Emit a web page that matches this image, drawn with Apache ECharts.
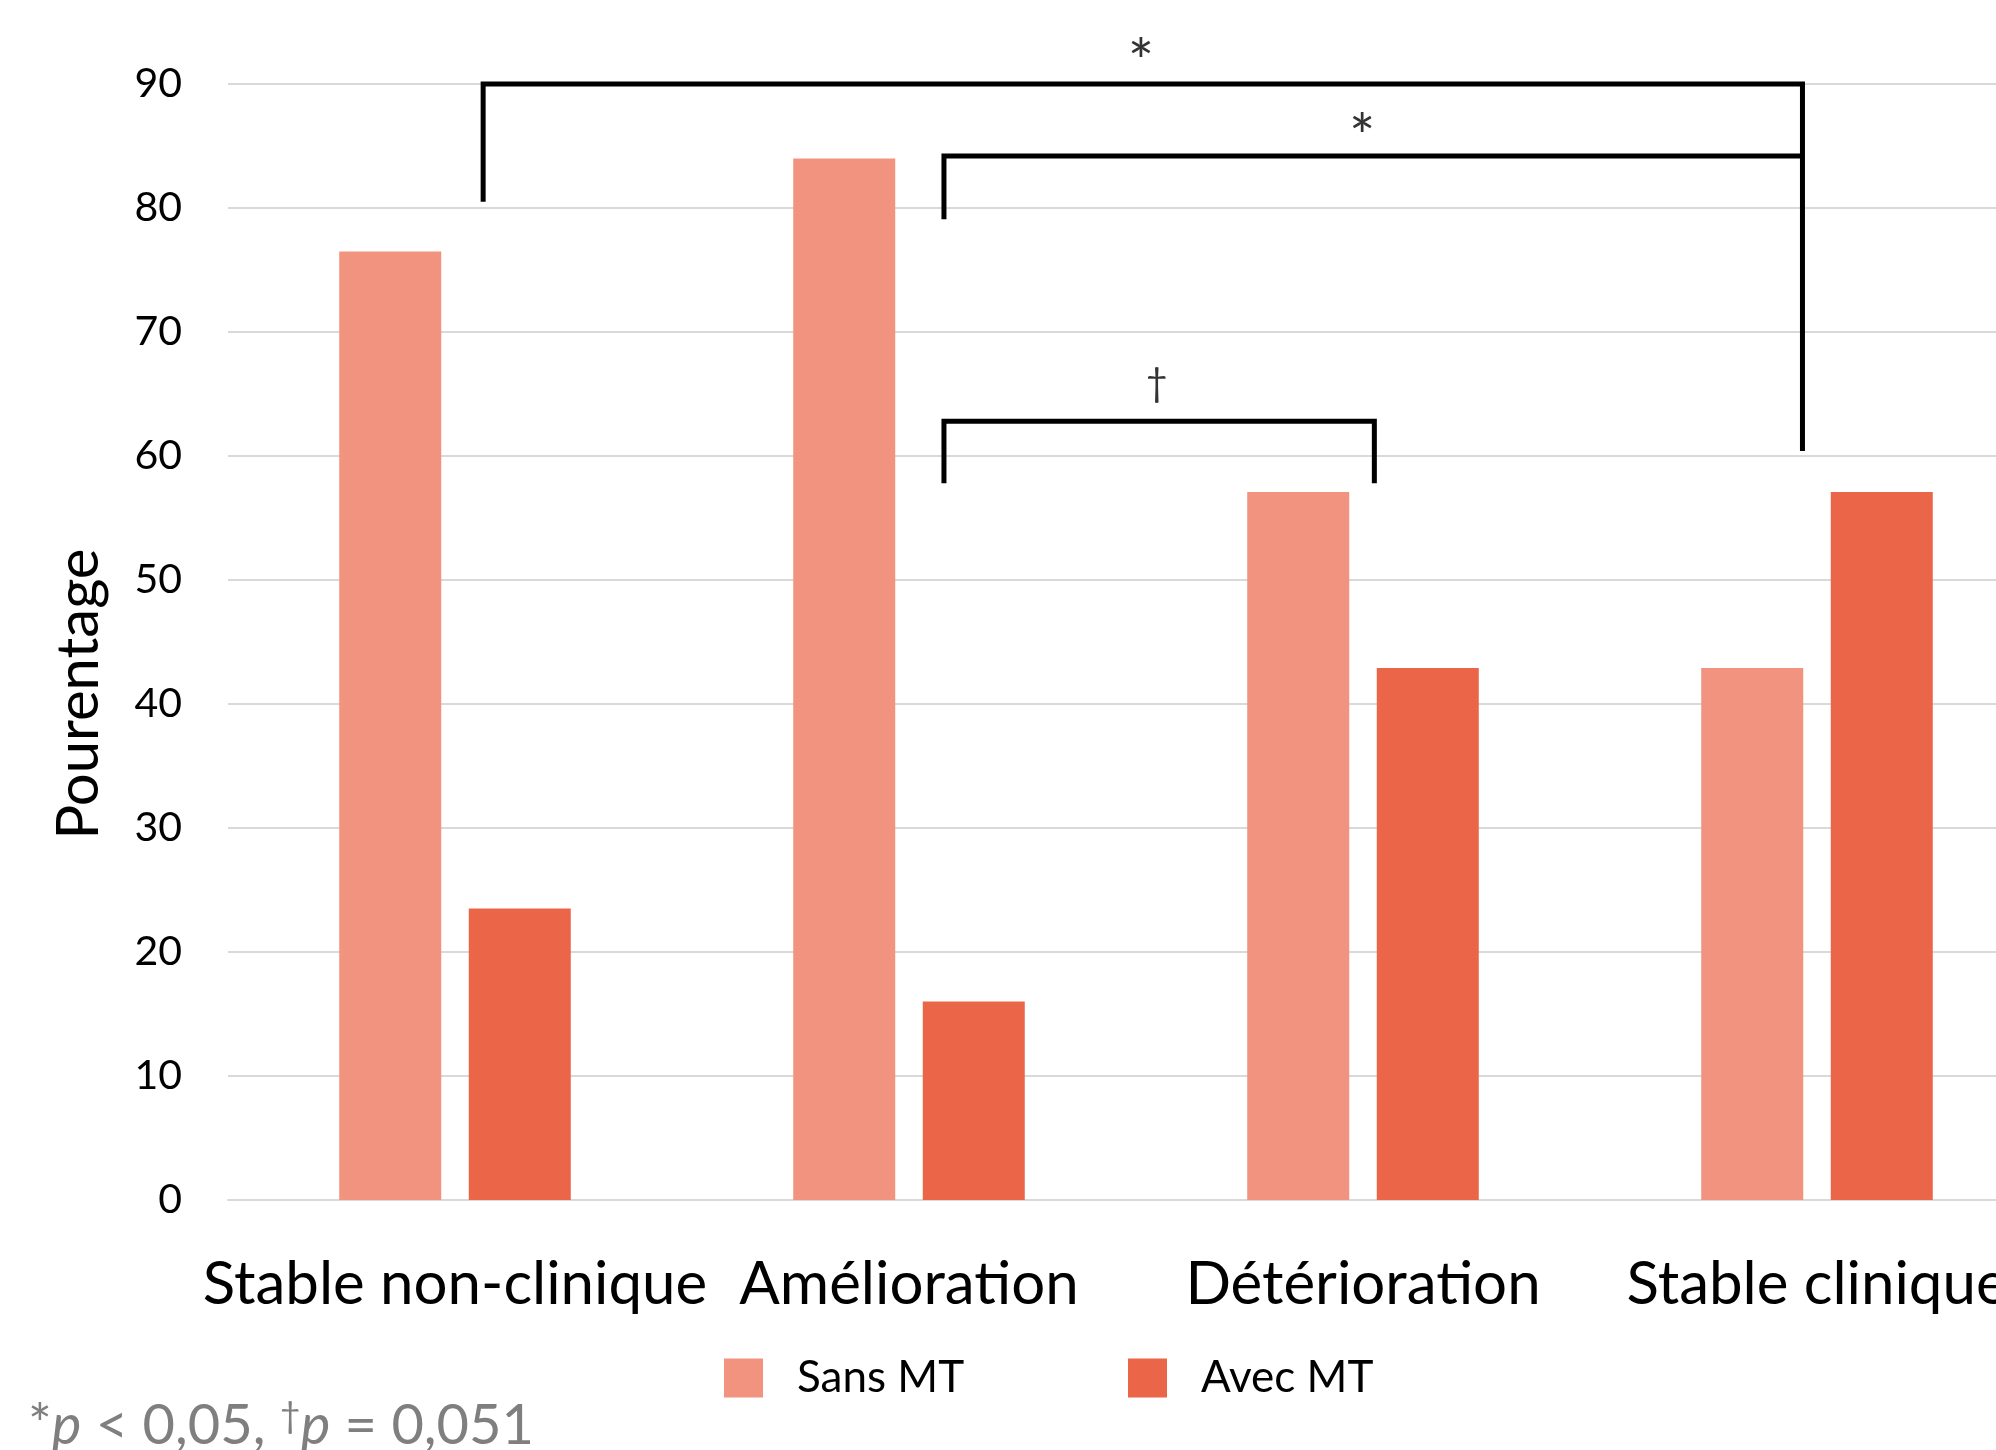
<!DOCTYPE html>
<html>
<head>
<meta charset="utf-8">
<script src="https://cdn.jsdelivr.net/npm/echarts@6/dist/echarts.min.js"></script>
<style>
  html, body { margin: 0; padding: 0; background: #fff; }
  #chart { width: 1996px; height: 1450px; }
</style>
</head>
<body>
<div id="chart"></div>
<script>
var categories = ['Stable non-clinique', 'Amélioration', 'Détérioration', 'Stable clinique'];
var sansMT = [76.5, 84, 57.1, 42.9];
var avecMT = [23.5, 16, 42.9, 57.1];
var yTicks = { min: 0, max: 90, interval: 10 };

// brackets in category units (category i centred on i)
var bracketTop = [[0.062, 80.5], [0.062, 90], [2.968, 90], [2.968, 60.4]];
var bracketMid = [[1.077, 79.1], [1.077, 84.2], [2.968, 84.2]];
var bracketLow = [[1.077, 57.8], [1.077, 62.8], [2.025, 62.8], [2.025, 57.8]];
var marks = [
  { name: '*', value: [1.511, 91.6] },
  { name: '*', value: [1.998, 85.6] },
  { name: '\u2020', value: [1.546, 65.8] }
];

var chart = echarts.init(document.getElementById('chart'));
var font = 'Lato';

function bracket(data) {
  return {
    type: 'line',
    xAxisIndex: 1,
    data: data,
    showSymbol: false,
    clip: false,
    silent: true,
    lineStyle: { color: '#000', width: 5, join: 'miter', cap: 'butt' }
  };
}

option = {
  animation: false,
  textStyle: { fontFamily: font },
  color: ['#F1937F', '#EB6649'],
  title: {
    left: 28,
    top: 1398,
    padding: 0,
    text: '{n|*}{i|p}{n| < 0,05, }{d|\u2020}{i|p}{n| = 0,051}',
    textStyle: {
      fontWeight: 'normal',
      rich: {
        n: { fontFamily: font, fontSize: 56, color: '#7F7F7F', fontWeight: 'normal' },
        i: { fontFamily: font, fontSize: 56, color: '#7F7F7F', fontStyle: 'italic', fontWeight: 'normal' },
        d: { fontFamily: font, fontSize: 36, color: '#7F7F7F', verticalAlign: 'top', fontWeight: 'normal' }
      }
    }
  },
  legend: {
    left: 724,
    top: 1356,
    padding: 0,
    itemWidth: 39,
    itemHeight: 39,
    itemGap: 161,
    icon: 'rect',
    data: ['Sans MT', 'Avec MT'],
    textStyle: {
      fontFamily: font,
      fontSize: 44,
      color: '#000',
      lineHeight: 39,
      width: 170,
      padding: [0, 0, 0, 29]
    }
  },
  grid: { left: 228, right: -48, top: 84, bottom: 250, outerBoundsMode: 'none', containLabel: false },
  xAxis: [
    {
      type: 'category',
      data: categories,
      axisTick: { show: false },
      axisLine: { lineStyle: { color: '#D9D9D9', width: 2 } },
      axisLabel: { fontFamily: font, fontSize: 60, color: '#000', margin: 55, interval: 0 }
    },
    { type: 'value', show: false, min: -0.5, max: 3.5 }
  ],
  yAxis: {
    type: 'value',
    min: yTicks.min,
    max: yTicks.max,
    interval: yTicks.interval,
    name: 'Pourentage',
    nameLocation: 'middle',
    nameRotate: 90,
    nameGap: 120,
    nameTextStyle: { fontFamily: font, fontSize: 58, color: '#000', padding: [0, 104, 0, 0] },
    axisLine: { show: false },
    axisTick: { show: false },
    axisLabel: { fontFamily: font, fontSize: 41, color: '#000', margin: 46 },
    splitLine: { lineStyle: { color: '#D9D9D9', width: 2 } }
  },
  series: [
    { name: 'Sans MT', type: 'bar', data: sansMT, barWidth: 102, barGap: '27%' },
    { name: 'Avec MT', type: 'bar', data: avecMT, barWidth: 102, barGap: '27%' },
    bracket(bracketTop),
    bracket(bracketMid),
    bracket(bracketLow),
    {
      type: 'scatter',
      xAxisIndex: 1,
      data: marks,
      symbolSize: 0,
      clip: false,
      silent: true,
      label: {
        show: true,
        position: 'inside',
        formatter: function (p) {
          return p.name === '*' ? '{a|*}' : '{d|' + p.name + '}';
        },
        rich: {
          a: { fontFamily: font, fontSize: 62, color: '#000' },
          d: { fontFamily: font, fontSize: 38, color: '#000' }
        }
      }
    }
  ]
};

if (option && typeof option === "object") {
  chart.setOption(option, true);
}
</script>
</body>
</html>
